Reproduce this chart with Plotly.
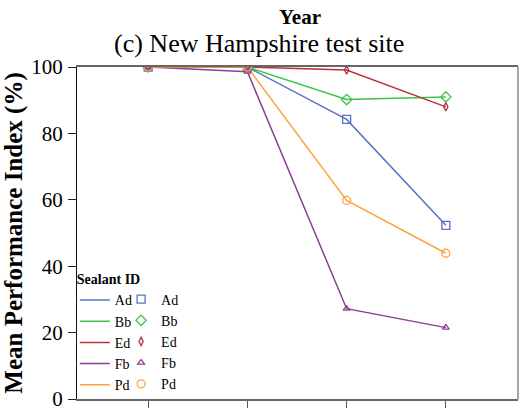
import plotly.graph_objects as go

# Mean performance index by sealant, New Hampshire site
years = [1, 2, 3, 4]
sealants = ["Ad", "Bb", "Ed", "Fb", "Pd"]
ad = [100.0, 100.0, 84.2, 52.3]
bb = [100.0, 100.0, 90.2, 91.0]
ed = [100.0, 100.0, 99.1, 88.0]
fb = [100.0, 98.6, 27.2, 21.5]
pd_ = [100.0, 100.0, 59.8, 43.9]
y_ticks = [0, 20, 40, 60, 80, 100]

values = {"Ad": ad, "Bb": bb, "Ed": ed, "Fb": fb, "Pd": pd_}
colors = {"Ad": "#5a70c6", "Bb": "#3cc448", "Ed": "#b8323c",
          "Fb": "#8c3f96", "Pd": "#ffa23c"}
symbols = {"Ad": "square-open", "Bb": "diamond-open", "Ed": "diamond-tall-open",
           "Fb": "triangle-up-open", "Pd": "circle-open"}
sizes = {"Ad": 8, "Bb": 8, "Ed": 6, "Fb": 6, "Pd": 8}

SERIF = "Liberation Serif, Times New Roman, serif"

fig = go.Figure()
for s in sealants:
    fig.add_trace(go.Scatter(
        x=years, y=values[s], name=s, mode="lines",
        line=dict(color=colors[s], width=1.5),
        legend="legend", hoverinfo="skip"))
for s in sealants:
    fig.add_trace(go.Scatter(
        x=years, y=values[s], name=s, mode="markers",
        marker=dict(symbol=symbols[s], color=colors[s], size=sizes[s],
                    line=dict(width=1.3, color=colors[s])),
        legend="legend2"))

fig.update_layout(
    width=519, height=412,
    margin=dict(l=77, r=1, t=67, b=10),
    paper_bgcolor="white", plot_bgcolor="white",
    font=dict(family=SERIF, color="black"),
    xaxis=dict(range=[0.283, 4.727], tickvals=years, ticktext=["", "", "", ""],
               ticks="outside", ticklen=7, tickcolor="#555", tickwidth=1.3,
               showline=True, linecolor="#666", linewidth=1.5, mirror=True,
               showgrid=False, zeroline=False, fixedrange=True),
    yaxis=dict(range=[0, 100], tickvals=y_ticks,
               ticks="outside", ticklen=8, tickcolor="#222", tickwidth=1,
               tickfont=dict(size=21, family=SERIF),
               ticklabeloverflow="allow",
               showline=True, linecolor="#111", linewidth=1.3,
               showgrid=False, zeroline=False, ticklabelstandoff=1,
               title=dict(text="<b>Mean Performance Index (%)</b>",
                          font=dict(size=25, family=SERIF), standoff=7)),
    showlegend=True,
    legend=dict(x=-0.005, y=0.4, xanchor="left", yanchor="top",
                bgcolor="rgba(0,0,0,0)",
                title=dict(text="<b>Sealant ID</b>", font=dict(size=14, family=SERIF)),
                font=dict(size=14, family=SERIF), tracegroupgap=0),
    legend2=dict(x=0.1, y=0.348, xanchor="left", yanchor="top",
                 bgcolor="rgba(0,0,0,0)",
                 font=dict(size=14, family=SERIF), tracegroupgap=0),
    shapes=[dict(type="line", xref="paper", yref="paper", x0=1, x1=1, y0=0, y1=1,
                 line=dict(color="#888", width=1.5))],
    annotations=[
        dict(text="<b>Year</b>", xref="paper", yref="paper", x=0.506, y=1,
             yanchor="middle", yshift=50, showarrow=False,
             font=dict(size=21, family=SERIF)),
        dict(text="(c) New Hampshire test site", xref="paper", yref="paper",
             x=0.413, y=1, yanchor="middle", yshift=24, showarrow=False,
             font=dict(size=26, family=SERIF)),
    ],
)

fig.write_html("out.html")
